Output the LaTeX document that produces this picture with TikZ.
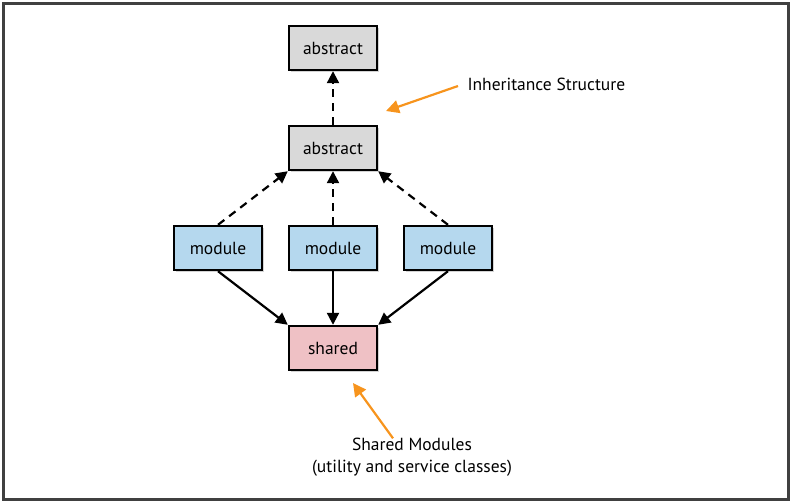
\documentclass[tikz,border=0pt]{standalone}
\usepackage{fontspec}
\setmainfont{PT Sans}
\usetikzlibrary{arrows.meta,shadows}
\definecolor{absgray}{HTML}{D9D9D9}
\definecolor{modblue}{HTML}{B5D8EE}
\definecolor{shrpink}{HTML}{EFC1C5}
\definecolor{noteorange}{HTML}{F7941D}
\tikzset{
  box/.style={draw=black,line width=2.4pt,minimum width=88pt,minimum height=44pt,
    font=\fontsize{17.5}{20}\selectfont,
    drop shadow={opacity=0.35,shadow xshift=2pt,shadow yshift=-2pt}},
  absbox/.style={box,fill=absgray},
  modbox/.style={box,fill=modblue},
  shrbox/.style={box,fill=shrpink},
  inherit/.style={line width=2.2pt,dash pattern=on 8pt off 6pt,-{Triangle[length=12pt,width=12pt]}},
  uses/.style={line width=2.2pt,-{Triangle[length=12pt,width=12pt]}},
  note/.style={draw=noteorange,line width=2.2pt,-{Triangle[length=13pt,width=13pt]}},
  notetext/.style={font=\fontsize{17.5}{22}\selectfont,align=center}
}
\begin{document}
\begin{tikzpicture}[x=1pt,y=-1pt]
\useasboundingbox (0,0) rectangle (792,503);
\draw[line width=3pt,draw=black!75] (3.5,3.5) rectangle (788.5,499.5);
%\draw[help lines, color=gray!30] (0,0) grid[step=50] (792,503);
\node[absbox] (abstop) at (333,48) {abstract};
\node[absbox] (absmid) at (333,148) {abstract};
\node[modbox] (modl) at (218,248) {module};
\node[modbox] (modc) at (333,248) {module};
\node[modbox] (modr) at (448,248) {module};
\node[shrbox] (shared) at (333,348) {shared};
% inheritance
\draw[inherit] (absmid) -- (abstop);
\draw[inherit] (modl.north) -- (absmid.south west);
\draw[inherit] (modc) -- (absmid);
\draw[inherit] (modr.north) -- (absmid.south east);
% uses
\draw[uses] (modl.south) -- (shared.north west);
\draw[uses] (modc) -- (shared);
\draw[uses] (modr.south) -- (shared.north east);
% notes
\node[notetext,anchor=west] (inhnote) at (464,84) {Inheritance Structure};
\coordinate (inhtip) at (386,111);
\path (inhnote.west) ++(-6pt,-2pt) coordinate (inhtail);
\draw[note] (inhtail) -- (inhtip);
\node[notetext] (shrnote) at (412,457) {Shared Modules\\(utility and service classes)};
\coordinate (shrtip) at (353,383);
\path (shrnote.north) ++(-19pt,-4pt) coordinate (shrtail);
\draw[note] (shrtail) -- (shrtip);
\end{tikzpicture}
\end{document}
